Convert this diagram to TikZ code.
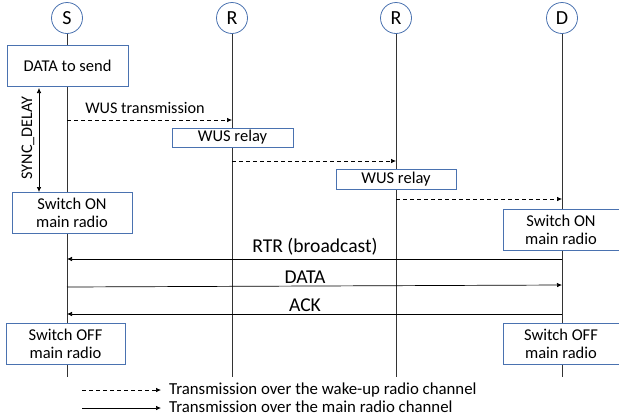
\documentclass[tikz,border=0pt]{standalone}
\usepackage{fontspec}
\setmainfont{Carlito}
\usetikzlibrary{arrows.meta}
\definecolor{boxblue}{HTML}{4A72B0}
\begin{document}
\begin{tikzpicture}[x=1pt,y=-1pt,
  actor/.style={circle,draw=boxblue,line width=0.8pt,minimum size=31pt,inner sep=0pt,fill=white,font=\fontsize{20}{22}\selectfont},
  box/.style={draw=boxblue,fill=white,line width=0.8pt,inner sep=0pt,align=center,font=\fontsize{16.5}{18}\selectfont},
  life/.style={draw=black!80,line width=0.8pt},
  msg/.style={-{Latex[length=5pt,width=4.5pt]},line width=0.7pt},
  wus/.style={msg,dash pattern=on 4pt off 3pt},
  lbl/.style={font=\fontsize{16.2}{18}\selectfont,inner sep=0pt},
  leglbl/.style={font=\fontsize{16.8}{18}\selectfont,inner sep=0pt,anchor=base west},
  biglbl/.style={font=\fontsize{19.6}{22}\selectfont,inner sep=0pt,anchor=base}]
\useasboundingbox (0,0) rectangle (619,416);
% actors
\node[actor] (S) at (67,18) {S};
\node[actor] (R1) at (232,18) {R};
\node[actor] (R2) at (396,18) {R};
\node[actor] (D) at (562,18) {D};
% lifeline ends
\coordinate (Se) at (67,377);
\coordinate (R1e) at (232,377);
\coordinate (R2e) at (396,377);
\coordinate (De) at (562,377);
\draw[life] (S) -- (Se);
\draw[life] (R1) -- (R1e);
\draw[life] (R2) -- (R2e);
\draw[life] (D) -- (De);
% boxes
\node[box,minimum width=121pt,minimum height=41pt] (data) at (67.5,65.5) {DATA to send};
\node[box,minimum width=121pt,minimum height=19pt] (relay1) at (232.5,137.5) {WUS relay};
\node[box,minimum width=120pt,minimum height=20pt] (relay2) at (396,179) {WUS relay};
\node[box,minimum width=120pt,minimum height=41pt] (onS) at (72,212.5) {Switch ON\\main radio};
\node[box,minimum width=116pt,minimum height=41pt] (onD) at (561,229.5) {Switch ON\\main radio};
\node[box,minimum width=119pt,minimum height=41pt] (offS) at (65.5,343.5) {Switch OFF\\main radio};
\node[box,minimum width=116pt,minimum height=41pt] (offD) at (561,343.5) {Switch OFF\\main radio};
% sync delay
\coordinate (sd1) at (39,88);
\coordinate (sd2) at (39,192);
\draw[{Latex[length=5pt,width=4.5pt]}-{Latex[length=5pt,width=4.5pt]},line width=0.7pt] (sd1) -- (sd2);
\node[lbl,rotate=90] (sdl) at (28,138) {SYNC\_DELAY};
% WUS messages
\coordinate (w1a) at (67,120); \coordinate (w1b) at (232,120);
\coordinate (w2a) at (232,161); \coordinate (w2b) at (396,161);
\coordinate (w3a) at (396,199); \coordinate (w3b) at (562,199);
\draw[wus] (w1a) -- (w1b);
\draw[wus] (w2a) -- (w2b);
\draw[wus] (w3a) -- (w3b);
\node[lbl,anchor=base] (wusl) at (145,113) {WUS transmission};
% main radio messages
\coordinate (rtra) at (562,259); \coordinate (rtrb) at (67,259);
\coordinate (dataa) at (67,287); \coordinate (datab) at (562,285);
\coordinate (acka) at (562,314); \coordinate (ackb) at (67,314);
\draw[msg] (rtra) -- (rtrb);
\draw[msg] (dataa) -- (datab);
\draw[msg] (acka) -- (ackb);
\node[biglbl] (rtrl) at (315,252) {RTR (broadcast)};
\node[biglbl] (datal) at (305,283) {DATA};
\node[biglbl] (ackl) at (305,311) {ACK};
% legend
\coordinate (l1a) at (82,390); \coordinate (l1b) at (161,390);
\coordinate (l2a) at (82,408); \coordinate (l2b) at (161,408);
\draw[wus] (l1a) -- (l1b);
\draw[msg] (l2a) -- (l2b);
\node[leglbl] (leg1) at (169,394.5) {Transmission over the wake-up radio channel};
\node[leglbl] (leg2) at (169,412.5) {Transmission over the main radio channel};
\end{tikzpicture}
\end{document}
